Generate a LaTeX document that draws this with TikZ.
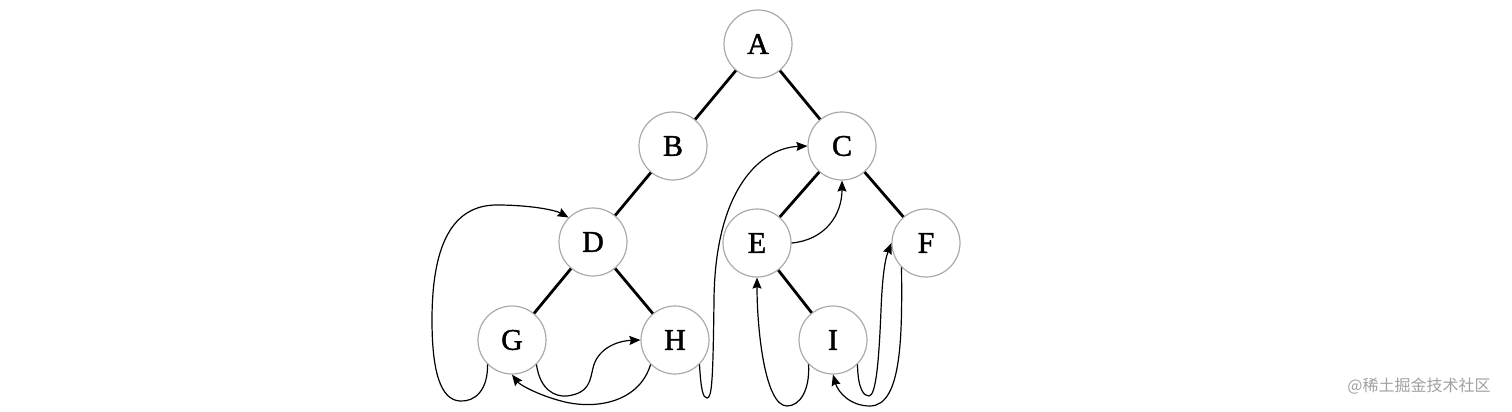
\documentclass[tikz,border=0pt]{standalone}
\usepackage{fontspec}
\setmainfont{Liberation Serif}
\newfontfamily\lblfont[FakeBold=1.4]{Liberation Serif}
\newfontfamily\cjk{Noto Sans CJK SC}
\usetikzlibrary{arrows.meta}
\definecolor{ringgray}{HTML}{AAAAAA}
\definecolor{markgray}{HTML}{A0A0A0}
\tikzset{
  vert/.style={circle, draw=ringgray, line width=1.2pt, minimum size=68pt, inner sep=0pt, fill=white, font=\lblfont\fontsize{30}{30}\selectfont},
  treeedge/.style={line width=2.8pt, black},
  thread/.style={line width=1.2pt, black, -{Stealth[length=11pt,width=9pt,inset=1.5pt]}}
}
\begin{document}
\begin{tikzpicture}[x=1pt,y=-1pt]
\useasboundingbox (0,0) rectangle (1512,412);
\node[vert] (A) at (758,44) {A};
\node[vert] (B) at (673,146) {B};
\node[vert] (C) at (842,146) {C};
\node[vert] (D) at (593,242) {D};
\node[vert] (E) at (757,243) {E};
\node[vert] (F) at (926,243) {F};
\node[vert] (G) at (512,340) {G};
\node[vert] (H) at (675,340) {H};
\node[vert] (I) at (833,340) {I};
\draw[treeedge] (A) -- (B);
\draw[treeedge] (A) -- (C);
\draw[treeedge] (B) -- (D);
\draw[treeedge] (C) -- (E);
\draw[treeedge] (C) -- (F);
\draw[treeedge] (D) -- (G);
\draw[treeedge] (D) -- (H);
\draw[treeedge] (E) -- (I);
% G -> D
\draw[thread] (G.-135) .. controls (488,390) and (475,402) .. (460,401)
  .. controls (440,400) and (432,370) .. (432,320)
  .. controls (432,240) and (455,205) .. (497,205)
  .. controls (530,205) and (555,210) .. (D.135);
% G -> H
\draw[thread] (G.-45) .. controls (540,390) and (555,397) .. (567,396)
  .. controls (590,393) and (590,380) .. (593,368)
  .. controls (597,350) and (615,341) .. (H.west);
% H -> G
\draw[thread] (H.-135) .. controls (640,400) and (600,410) .. (565,402)
  .. controls (540,396) and (520,385) .. (G.south);
% H -> C
\draw[thread] (H.-45) .. controls (701,390) and (703,398) .. (707,398)
  .. controls (712,398) and (713,380) .. (714,300)
  .. controls (715,190) and (760,148) .. (C.west);
% E -> C
\draw[thread] (E.east) .. controls (825,240) and (842,215) .. (C.south);
% I -> E
\draw[thread] (I.-135) .. controls (810,390) and (800,406) .. (787,406)
  .. controls (765,406) and (757,330) .. (E.south);
% I -> F
\draw[thread] (I.-45) .. controls (858,390) and (864,396) .. (869,396)
  .. controls (876,396) and (879,360) .. (881,310)
  .. controls (882,285) and (884,262) .. (F.west);
% F -> I
\draw[thread] (F.-135) .. controls (902,330) and (903,406) .. (870,406)
  .. controls (850,406) and (838,392) .. (I.south);
\node[font=\cjk\fontsize{16}{16}\selectfont, text=markgray, inner sep=0pt] (wm) at (1419,386) {@稀土掘金技术社区};
\end{tikzpicture}
\end{document}
